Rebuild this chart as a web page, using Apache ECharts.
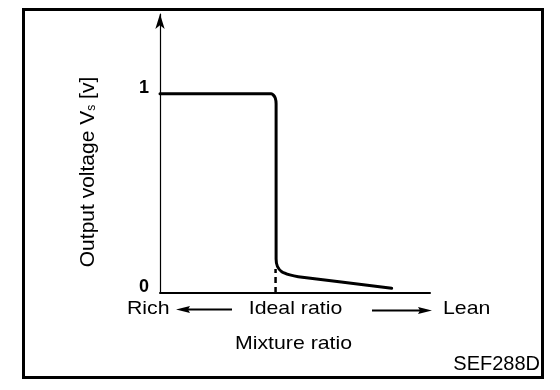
<!DOCTYPE html>
<html>
<head>
<meta charset="utf-8">
<script src="https://cdn.jsdelivr.net/npm/echarts@6/dist/echarts.min.js"></script>
<style>html,body{margin:0;padding:0;background:#fff}#c{width:560px;height:390px}</style>
</head>
<body>
<div id="c"></div>
<script>
// Mixture ratio position (0 = rich end, 100 = lean end), output voltage [V]
var mixture = [0, 41.2, 42.0, 42.7, 43.0, 43.0, 43.5, 45.1, 48.1, 51.2, 85.8];
var voltage = [1.0, 1.0, 0.993, 0.978, 0.95, 0.17, 0.133, 0.107, 0.091, 0.082, 0.024];
var idealX = 42.8;
var idealMarkTop = 0.12;
var yTicks = [0, 1];
var yTitle = 'Output voltage V{s|s} [v]';
var xTitle = 'Mixture ratio';
var leftLabel = 'Rich';
var midLabel = 'Ideal ratio';
var rightLabel = 'Lean';
var figId = 'SEF288D';

var curve = mixture.map(function (x, i) { return [x, voltage[i]]; });
var font = '"Liberation Sans", Arial, sans-serif';

var chart = echarts.init(document.getElementById('c'), null, {renderer: 'canvas'});
chart.setOption({
  animation: false,
  backgroundColor: '#fff',
  grid: {left: 160, right: 130, top: 14, bottom: 97},
  xAxis: {
    type: 'value', min: 0, max: 100,
    axisLine: {show: true, onZero: false, lineStyle: {color: '#000', width: 2}},
    axisTick: {show: false}, axisLabel: {show: false}, splitLine: {show: false}
  },
  yAxis: {
    type: 'value', min: 0, max: 1.4, interval: 1,
    axisLine: {show: true, symbol: ['none', 'arrow'], symbolSize: [7, 15], symbolOffset: [0, 0],
      lineStyle: {color: '#000', width: 1.2}},
    axisTick: {show: false}, splitLine: {show: false},
    axisLabel: {
      margin: 11, fontFamily: 'Liberation Sans', fontSize: 18, fontWeight: 'bold', color: '#000',
      verticalAlign: 'bottom', lineHeight: 12,
      formatter: function (v) { return yTicks.indexOf(v) >= 0 ? String(v) : ''; }
    }
  },
  series: [
    {
      type: 'line', data: curve, symbol: 'none', smooth: 0.25,
      lineStyle: {color: '#000', width: 3, cap: 'round', join: 'round'}
    },
    {
      type: 'line', data: [[idealX, 0], [idealX, idealMarkTop]], symbol: 'none',
      lineStyle: {color: '#000', width: 2.5, type: [6, 4]}
    }
  ],
  graphic: [
    {type: 'rect', shape: {x: 23.5, y: 9.5, width: 519, height: 368},
      style: {fill: 'none', stroke: '#000', lineWidth: 3}},
    {type: 'text', x: 88, y: 172, rotation: Math.PI / 2,
      style: {text: yTitle, font: '21px ' + font, fill: '#000', align: 'center', verticalAlign: 'middle',
        rich: {s: {fontSize: 12, fontFamily: 'Liberation Sans', padding: [8, 0, 0, 0]}}}},
    {type: 'text', x: 127, y: 309, scaleX: 1.12,
      style: {text: leftLabel, font: '19px ' + font, fill: '#000', align: 'left', verticalAlign: 'middle'}},
    {type: 'text', x: 295.5, y: 309, scaleX: 1.12,
      style: {text: midLabel, font: '19px ' + font, fill: '#000', align: 'center', verticalAlign: 'middle'}},
    {type: 'text', x: 443, y: 309, scaleX: 1.12,
      style: {text: rightLabel, font: '19px ' + font, fill: '#000', align: 'left', verticalAlign: 'middle'}},
    {type: 'text', x: 293.5, y: 344, scaleX: 1.12,
      style: {text: xTitle, font: '19px ' + font, fill: '#000', align: 'center', verticalAlign: 'middle'}},
    {type: 'text', x: 540, y: 364.5,
      style: {text: figId, font: '20px ' + font, fill: '#000', align: 'right', verticalAlign: 'middle'}},
    {type: 'line', shape: {x1: 182, y1: 309.5, x2: 232, y2: 309.5}, style: {stroke: '#000', lineWidth: 2}},
    {type: 'polygon', shape: {points: [[176, 309.5], [190, 306], [188, 309.5], [190, 313]]}, style: {fill: '#000'}},
    {type: 'line', shape: {x1: 372, y1: 310.5, x2: 426, y2: 310.5}, style: {stroke: '#000', lineWidth: 2}},
    {type: 'polygon', shape: {points: [[432, 310.5], [418, 307], [420, 310.5], [418, 314]]}, style: {fill: '#000'}}
  ]
});
</script>
</body>
</html>
